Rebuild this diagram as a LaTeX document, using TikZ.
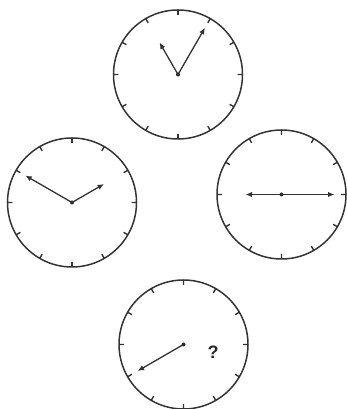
\documentclass[tikz,border=0pt]{standalone}
\usepackage{fontspec}
\setsansfont{Liberation Sans}
\usetikzlibrary{positioning,arrows.meta,calc}

\begin{document}
\begin{tikzpicture}[
	x=1pt, y=1pt,
	face/.style={
		draw=black!80,
		circle,
		line width=1.5pt,
		minimum size=129pt,
		inner sep=0pt,
		outer sep=0pt,
	},
	tick/.style={line width=1.4pt, draw=black!80},
	hand/.style={-{Latex[length=6.5pt, width=5.5pt]}, line width=1.3pt, draw=black!80},
	qmark/.style={
		font=\fontsize{18}{18}\selectfont\bfseries\sffamily,
		text=black!85,
		inner sep=0pt,
	},
]
\useasboundingbox (0,0) rectangle (346,409);

\node[face] (noon) at (178,334.5) {};
\node[face] (west) at (72,206.5) {};
\node[face] (east) at (281.5,214.5) {};
\node[face] (south) at (183.5,64.5) {};

% Hodinové značky -- dvanáct krátkých čárek dovnitř ciferníku.
\foreach \c in {noon,west,east,south} {
	\foreach \a in {0,30,...,330}
		\draw[tick] (\c.\a) -- ($(\c.center)!0.925!(\c.\a)$);
	\fill[black!85] (\c.center) circle (2pt);
}

\coordinate (noon-h) at ($(noon.center)+(120:37)$);
\coordinate (noon-m) at ($(noon.center)+(60:54)$);
\coordinate (west-h) at ($(west.center)+(30:37)$);
\coordinate (west-m) at ($(west.center)+(150:54)$);
\coordinate (east-h) at ($(east.center)+(180:36)$);
\coordinate (east-m) at ($(east.center)+(0:53)$);
\coordinate (south-m) at ($(south.center)+(210:53)$);

\draw[hand] (noon.center) -- (noon-h);
\draw[hand] (noon.center) -- (noon-m);
\draw[hand] (west.center) -- (west-h);
\draw[hand] (west.center) -- (west-m);
\draw[hand] (east.center) -- (east-h);
\draw[hand] (east.center) -- (east-m);
\draw[hand] (south.center) -- (south-m);

\node[qmark] (ask) at (213,57) {?};

\end{tikzpicture}
\end{document}
